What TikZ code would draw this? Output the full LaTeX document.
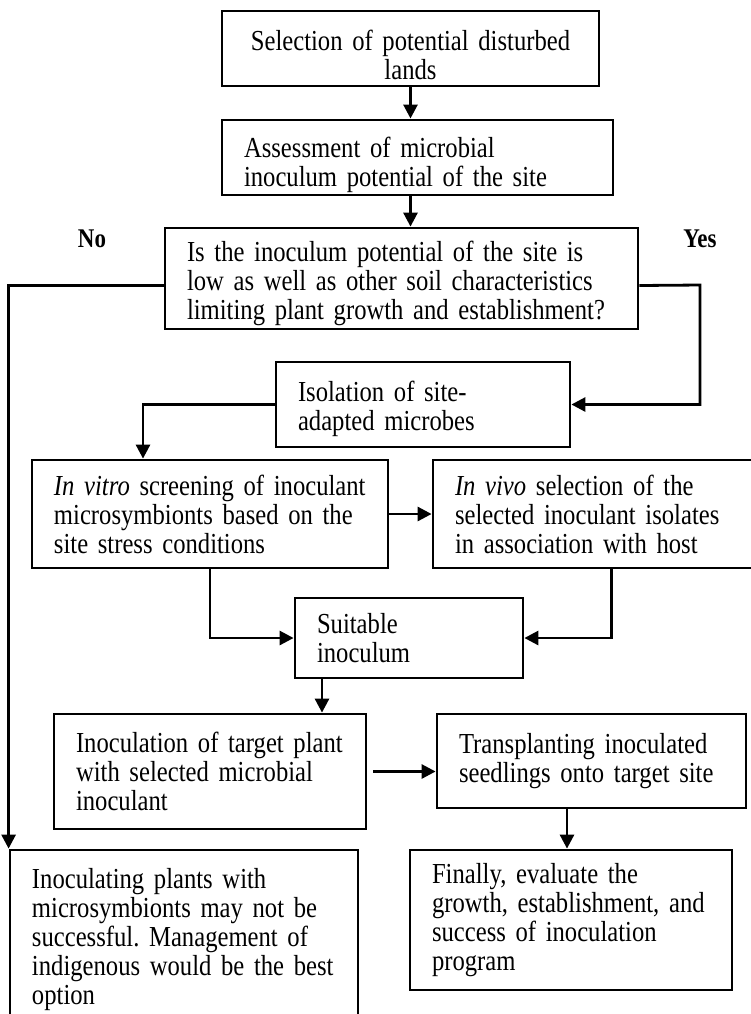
\documentclass[tikz,border=0pt]{standalone}
\usepackage{fontspec}
\setmainfont{Liberation Serif}[FakeStretch=0.85]
\usetikzlibrary{arrows.meta,calc}

\begin{document}
\frenchspacing
\begin{tikzpicture} [
    x=0.5pt, y=-0.5pt,
    block/.style    = { rectangle, draw, line width=1.4pt, align=left,
                        inner xsep=11pt, inner ysep=1pt,
                        font=\fontsize{14.5}{14.5}\selectfont },
    lowtext/.style  = { execute at begin node={\rule{0pt}{#1}} },
    answer/.style   = { font=\bfseries\fontsize{13.5}{14}\selectfont },
    line/.style     = { draw, line width=1.4pt, -{Triangle[length=7pt,width=7pt]} },
  ]
  \useasboundingbox (0,0) rectangle (751,1014);

  % Define nodes
  \node[block, align=center, lowtext=17pt, text width=166.5pt, minimum height=37.5pt] (select) at (410.5,48.5)
    {Selection of potential disturbed\\lands};
  \node[block, lowtext=18pt, text width=173.5pt, minimum height=37.5pt] (assess) at (417.5,157.5)
    {Assessment of microbial\\inoculum potential of the site};
  \node[block, lowtext=15.5pt, text width=214.5pt, minimum height=50.5pt] (question) at (401.5,278.5)
    {Is the inoculum potential of the site is\\low as well as other soil characteristics\\limiting plant growth and establishment?};
  \node[answer] (no) at (92,239) {No};
  \node[answer] (yes) at (700,239) {Yes};
  \node[block, lowtext=15pt, text width=125pt, minimum height=42.5pt] (isolate) at (423,404.5)
    {Isolation of site-\\adapted microbes};
  \node[block, text width=156pt, minimum height=54pt] (invitro) at (210,514)
    {\textit{In vitro} screening of inoculant\\microsymbionts based on the\\site stress conditions};
  \node[block, text width=141.5pt, minimum height=54pt] (invivo) at (596.5,514)
    {\textit{In vivo} selection of the\\selected inoculant isolates\\in association with host};
  \node[block, text width=92pt, minimum height=40pt] (suitable) at (409,638)
    {Suitable\\inoculum};
  \node[block, text width=134pt, minimum height=57.5pt] (inoculate) at (210,771.5)
    {Inoculation of target plant\\with selected microbial\\inoculant};
  \node[block, text width=132.5pt, minimum height=47pt] (transplant) at (591.5,761)
    {Transplanting inoculated\\seedlings onto target site};
  \node[block, text width=139pt, minimum height=70pt] (evaluate) at (571,920)
    {Finally, evaluate the\\growth, establishment, and\\success of inoculation\\program};
  \node[block, text width=152pt, minimum height=90pt] (indigenous) at (184,940)
    {Inoculating plants with\\microsymbionts may not be\\successful. Management of\\indigenous would be the best\\option};

  \coordinate (yesturn) at (700,285);
  \coordinate (suitdrop) at ([xshift=-43.5pt]suitable.south);
  \coordinate (transdrop) at ([xshift=-12.25pt]transplant.south);

  % connect the nodes
		\path [line] (select) -- (select |- assess.north);
		\path [line] (select |- assess.south) -- (select |- question.north);
		\path [line] ([yshift=-3.5pt]question.west) -| (indigenous.north west);
		\path [line] ([yshift=-3.5pt]question.east) -- (yesturn) |- (isolate.east);
		\path [line] (isolate.west) -| ([xshift=-33.5pt]invitro.north);
		\path [line] (invitro.east) -- (invivo.west);
		\path [line] (invitro.south) |- (suitable.west);
		\path [line] ([xshift=7.5pt]invivo.south) |- (suitable.east);
		\path [line] (suitdrop) -- (suitdrop |- inoculate.north);
		\path [line, shorten <=3pt] (inoculate.east) -- (inoculate.east -| transplant.west);
		\path [line] (transdrop) -- (transdrop |- evaluate.north);
\end{tikzpicture}
\end{document}
